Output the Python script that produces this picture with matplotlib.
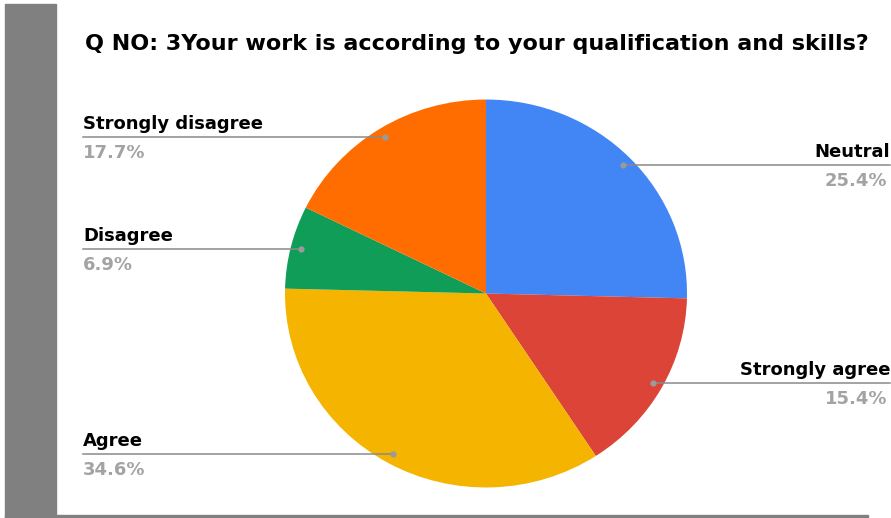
import matplotlib.pyplot as plt
import matplotlib.transforms as mtransforms
import numpy as np

labels = ['Neutral', 'Strongly agree', 'Agree', 'Disagree', 'Strongly disagree']
values = [25.4, 15.4, 34.6, 6.9, 17.7]
colors = ['#4285F4', '#DB4437', '#F4B400', '#0F9D58', '#FF6D00']
title = 'Q NO: 3Your work is according to your qualification and skills?'

W, H = 891, 518
fig = plt.figure(figsize=(W / 100, H / 100), dpi=100)
ax = fig.add_axes([0, 0, 1, 1])

# gray frame on the left and bottom
fig.patches.append(plt.Rectangle((5 / W, 0), 51 / W, 514 / H, transform=fig.transFigure,
                                 color='#808080', zorder=0))
fig.patches.append(plt.Rectangle((5 / W, 0), 863 / W, 3 / H, transform=fig.transFigure,
                                 color='#808080', zorder=0))

cx, cy, r = 486, H - 293.5, 201
sy = 0.965  # pie is slightly squashed vertically
squash = mtransforms.Affine2D().translate(-cx, -cy).scale(1, sy).translate(cx, cy)

wedges, _ = ax.pie(values, colors=colors, startangle=90, counterclock=False,
                   center=(cx, cy), radius=r, wedgeprops=dict(linewidth=0))
for w in wedges:
    w.set_transform(squash + ax.transData)
ax.set_xlim(0, W)
ax.set_ylim(0, H)
ax.set_aspect('auto')
ax.axis('off')

lbl_font = dict(family=['DejaVu Sans'], fontweight='bold', fontsize=13)
for w, lab, v in zip(wedges, labels, values):
    ang = np.deg2rad((w.theta1 + w.theta2) / 2)
    px = cx + 0.95 * r * np.cos(ang)
    py = cy + 0.95 * r * np.sin(ang) * sy
    if px > cx:
        x_end, ha = 890, 'right'
    else:
        x_end, ha = 83, 'left'
    ax.plot([px, x_end], [py, py], color='#8a8a8a', lw=1.1, zorder=3)
    ax.plot(px, py, 'o', ms=3.5, color='#9a9a9a', zorder=4)
    ax.text(x_end, py + 13, lab, ha=ha, va='center', color='black', **lbl_font)
    ax.text(x_end - (3 if ha == 'right' else 0), py - 16, f'{v:.1f}%', ha=ha, va='center',
            color='#a3a3a3', **lbl_font)

ax.text(85, H - 44, title, ha='left', va='center', fontsize=16, fontweight='bold',
        family=['DejaVu Sans'], color='black')

fig.savefig('out.png', dpi=100, facecolor='white')
